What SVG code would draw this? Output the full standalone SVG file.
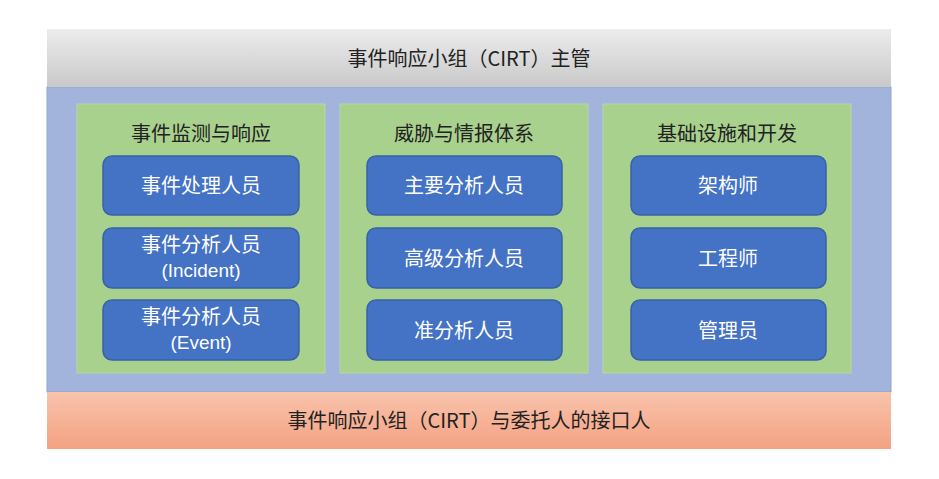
<svg xmlns="http://www.w3.org/2000/svg" width="939" height="479" viewBox="0 0 939 479">
<defs>
<linearGradient id="gGray" x1="0" y1="0" x2="0" y2="1"><stop offset="0" stop-color="#ececec"/><stop offset="1" stop-color="#c9c9c9"/></linearGradient>
<linearGradient id="gOrange" x1="0" y1="0" x2="0" y2="1"><stop offset="0" stop-color="#f8c3ac"/><stop offset="1" stop-color="#f4a282"/></linearGradient>
<style>
text{font-family:"Noto Sans CJK SC","Liberation Sans",sans-serif;text-anchor:middle;dominant-baseline:central}
.dark{fill:#222;font-size:20px}
.btn rect{fill:#4472c4;stroke:#3a62a8;stroke-width:1.5}
.btn text{fill:#fff;font-size:20px}
.btn text.latin{font-family:"Liberation Sans",sans-serif;font-size:19px}
.panel{fill:#a9d18e;stroke:#b6d8a0;stroke-width:1}
</style>
</defs>
<rect width="939" height="479" fill="#fff"/>
<g id="bg">
<rect x="47" y="87" width="844" height="305" fill="#a2b4dc" stroke="#8fa5d6" stroke-width="1"/>
</g>
<g id="top">
<rect x="47" y="29" width="844" height="58" fill="url(#gGray)"/>
<text class="dark" x="469" y="57">事件响应小组（CIRT）主管</text>
</g>
<g id="bottom">
<rect x="47" y="392" width="844" height="57" fill="url(#gOrange)"/>
<text class="dark" x="469" y="419">事件响应小组（CIRT）与委托人的接口人</text>
</g>
<g id="panel1">
<rect class="panel" x="77" y="104" width="248" height="269"/>
<text class="dark" x="201" y="132">事件监测与响应</text>
</g>
<g id="panel2">
<rect class="panel" x="340" y="104" width="248" height="269"/>
<text class="dark" x="464" y="132">威胁与情报体系</text>
</g>
<g id="panel3">
<rect class="panel" x="603" y="104" width="248" height="269"/>
<text class="dark" x="727" y="132">基础设施和开发</text>
</g>
<g id="n1" class="btn"><rect x="103" y="156" width="196" height="59" rx="9"/><text x="201" y="184">事件处理人员</text></g>
<g id="n2" class="btn"><rect x="103" y="228" width="196" height="60" rx="9"/><text x="201" y="243">事件分析人员</text><text class="latin" x="201" y="270">(Incident)</text></g>
<g id="n3" class="btn"><rect x="103" y="300" width="196" height="60" rx="9"/><text x="201" y="315">事件分析人员</text><text class="latin" x="201" y="342">(Event)</text></g>
<g id="n4" class="btn"><rect x="367" y="156" width="195" height="59" rx="9"/><text x="464" y="184">主要分析人员</text></g>
<g id="n5" class="btn"><rect x="367" y="228" width="195" height="60" rx="9"/><text x="464" y="257">高级分析人员</text></g>
<g id="n6" class="btn"><rect x="367" y="300" width="195" height="60" rx="9"/><text x="464" y="329">准分析人员</text></g>
<g id="n7" class="btn"><rect x="631" y="156" width="195" height="59" rx="9"/><text x="728" y="184">架构师</text></g>
<g id="n8" class="btn"><rect x="631" y="228" width="195" height="60" rx="9"/><text x="728" y="257">工程师</text></g>
<g id="n9" class="btn"><rect x="631" y="300" width="195" height="60" rx="9"/><text x="728" y="329">管理员</text></g>
<g id="connectors"/>
</svg>
